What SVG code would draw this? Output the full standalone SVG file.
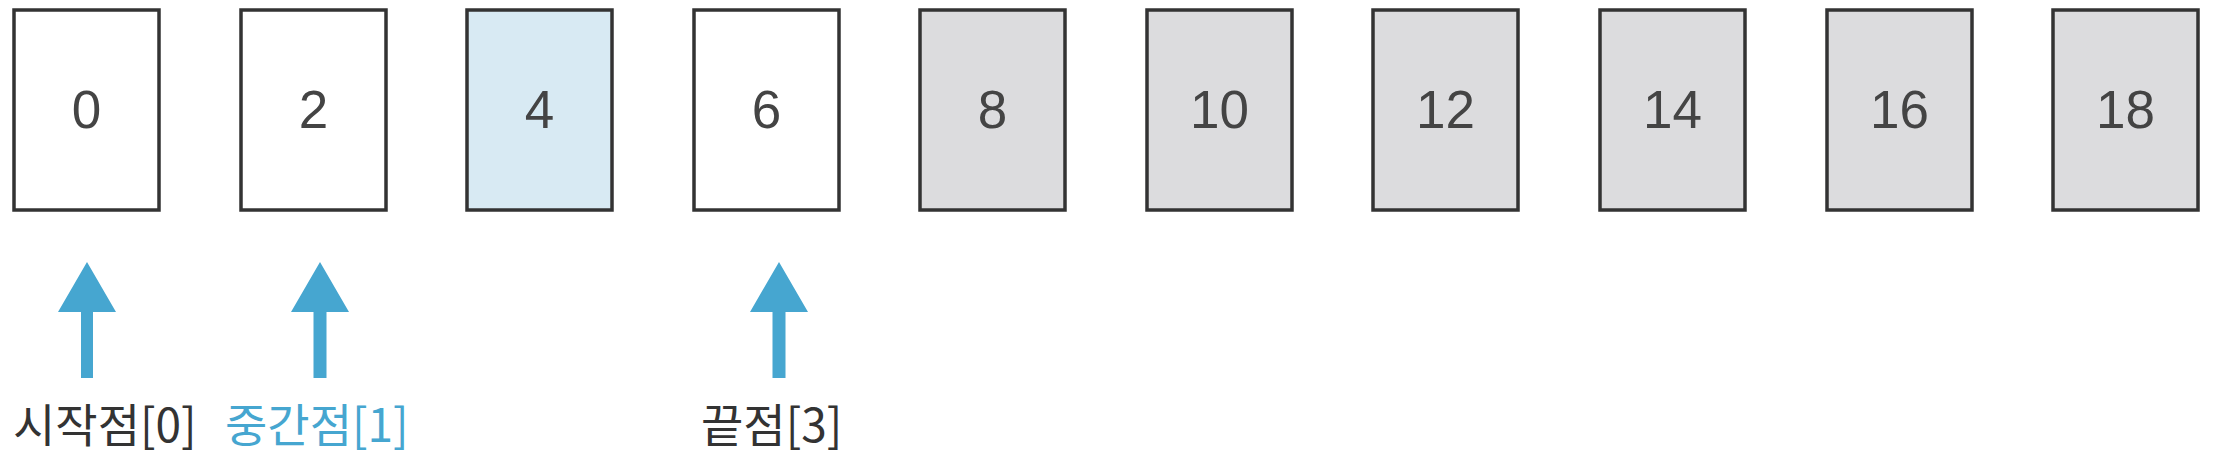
<svg xmlns="http://www.w3.org/2000/svg" width="2222" height="454" viewBox="0 0 2222 454">
<style>
.box{stroke:#333;stroke-width:3.5;}
.w{fill:#fff;}
.g{fill:#dcdcde;}
.b{fill:#d8eaf3;}
.num{font-family:"Liberation Sans",Arial,sans-serif;font-size:53px;fill:#444;text-anchor:middle;}
.lbl{font-family:"Noto Sans CJK KR","Noto Sans",sans-serif;font-size:46px;}
.arr{fill:#46a6d0;}
</style>
<rect width="2222" height="454" fill="#fff"/>
<g id="n0"><rect class="box w" x="14" y="10" width="145" height="200"/><text class="num" x="86.5" y="128">0</text></g>
<g id="n1"><rect class="box w" x="241" y="10" width="145" height="200"/><text class="num" x="313.5" y="128">2</text></g>
<g id="n2"><rect class="box b" x="467" y="10" width="145" height="200"/><text class="num" x="539.5" y="128">4</text></g>
<g id="n3"><rect class="box w" x="694" y="10" width="145" height="200"/><text class="num" x="766.5" y="128">6</text></g>
<g id="n4"><rect class="box g" x="920" y="10" width="145" height="200"/><text class="num" x="992.5" y="128">8</text></g>
<g id="n5"><rect class="box g" x="1147" y="10" width="145" height="200"/><text class="num" x="1219.5" y="128">10</text></g>
<g id="n6"><rect class="box g" x="1373" y="10" width="145" height="200"/><text class="num" x="1445.5" y="128">12</text></g>
<g id="n7"><rect class="box g" x="1600" y="10" width="145" height="200"/><text class="num" x="1672.5" y="128">14</text></g>
<g id="n8"><rect class="box g" x="1827" y="10" width="145" height="200"/><text class="num" x="1899.5" y="128">16</text></g>
<g id="n9"><rect class="box g" x="2053" y="10" width="145" height="200"/><text class="num" x="2125.5" y="128">18</text></g>
<g id="connectors">
<path class="arr" d="M87 262 L116 312 L93 312 L93 378 L81 378 L81 312 L58 312 Z"/>
<path class="arr" d="M320 262 L349 312 L326.5 312 L326.5 378 L313.5 378 L313.5 312 L291 312 Z"/>
<path class="arr" d="M779 262 L808 312 L785.5 312 L785.5 378 L772.5 378 L772.5 312 L750 312 Z"/>
</g>
<g id="labels">
<text class="lbl" x="13" y="442" fill="#333">시작점[0]</text>
<text class="lbl" x="225" y="442" fill="#46a6d0">중간점[1]</text>
<text class="lbl" x="701" y="442" fill="#333">끝점[3]</text>
</g>
</svg>
